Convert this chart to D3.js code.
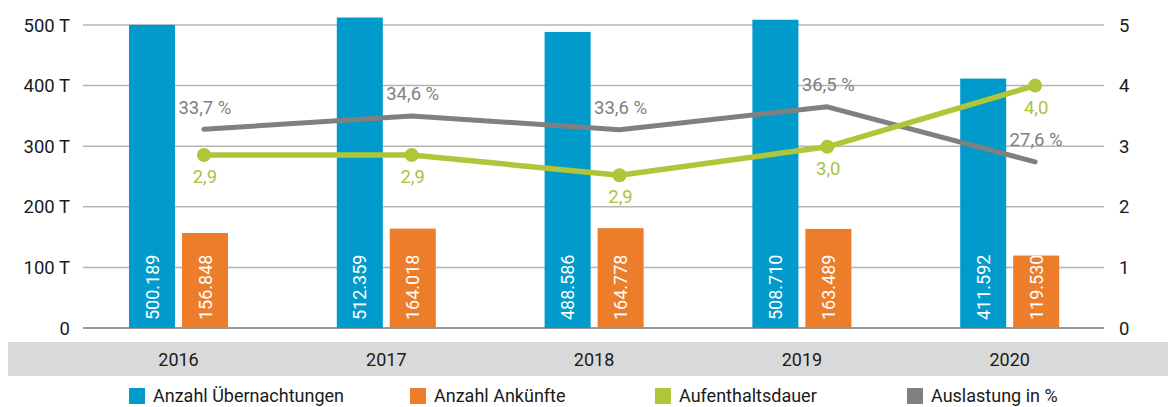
<!DOCTYPE html>
<html><head><meta charset="utf-8">
<script src="https://cdn.jsdelivr.net/npm/d3@7"></script>
<style>
html,body{margin:0;padding:0;background:#fff;}
svg{display:block;font-family:Roboto, "Open Sans", sans-serif;}
</style></head>
<body><svg id="chart" width="1168" height="407"></svg>
<script>
const years = ["2016","2017","2018","2019","2020"];
const uebernachtungen = [500189, 512359, 488586, 508710, 411592];
const ankuenfte = [156848, 164018, 164778, 163489, 119530];
const aufenthaltsdauer = [2.855, 2.855, 2.52, 2.99, 4.0];
const aufenthaltsLabels = ["2,9","2,9","2,9","3,0","4,0"];
const auslastung = [3.28, 3.50, 3.27, 3.65, 2.74];
const auslastungLabels = ["33,7 %","34,6 %","33,6 %","36,5 %","27,6 %"];
const leftTicks = [0, 100000, 200000, 300000, 400000, 500000];
const leftTickLabels = ["0","100 T","200 T","300 T","400 T","500 T"];
const rightTicks = [0,1,2,3,4,5];
const legendItems = ["Anzahl Übernachtungen","Anzahl Ankünfte","Aufenthaltsdauer","Auslastung in %"];

const C = {blue:"#009bcb", orange:"#ec7d2a", green:"#aec637", gray:"#808080", grayText:"#7f7f7f", greenText:"#a8c43a"};
const svg = d3.select("#chart");
const fmt = d3.format(",");
const deFmt = v => fmt(v).replace(/,/g,".");

const x = d3.scaleBand().domain(years).range([100, 1139]).paddingInner(0).paddingOuter(0);
const yL = d3.scaleLinear().domain([0, 500000]).range([328, 25]);
const yR = d3.scaleLinear().domain([0, 5]).range([328, 25]);
const gridX0 = 83, gridX1 = 1104;

// category band
svg.append("rect").attr("x",8).attr("y",342).attr("width",1160).attr("height",34).attr("fill","#d9d9d9");

// gridlines
svg.append("g").selectAll("line").data(leftTicks).join("line")
  .attr("x1",gridX0).attr("x2",gridX1)
  .attr("y1",d=>yL(d)).attr("y2",d=>yL(d))
  .attr("stroke",(d,i)=> i===0 ? "#9a9a9a" : "#b5b5b5").attr("stroke-width",(d,i)=> i===0?2:1.5);

// left axis labels
svg.append("g").selectAll("text").data(leftTicks).join("text")
  .attr("x",70).attr("y",d=>yL(d)+6.5).attr("text-anchor","end")
  .attr("font-size",18.5).attr("fill","#1a1a1a").text((d,i)=>leftTickLabels[i]);

// right axis labels
svg.append("g").selectAll("text").data(rightTicks).join("text")
  .attr("x",1119).attr("y",d=>yR(d)+6.5).attr("text-anchor","start")
  .attr("font-size",18.5).attr("fill","#1a1a1a").text(d=>d);

const bw = 46, blueOff = 29, orangeOff = 82;

// bars
const bars = svg.append("g");
bars.selectAll("rect.b").data(years).join("rect").attr("class","b")
  .attr("x",d=>x(d)+blueOff).attr("width",bw)
  .attr("y",(d,i)=>yL(uebernachtungen[i])).attr("height",(d,i)=>yL(0)-yL(uebernachtungen[i]))
  .attr("fill",C.blue);
bars.selectAll("rect.o").data(years).join("rect").attr("class","o")
  .attr("x",d=>x(d)+orangeOff).attr("width",bw)
  .attr("y",(d,i)=>yL(ankuenfte[i])).attr("height",(d,i)=>yL(0)-yL(ankuenfte[i]))
  .attr("fill",C.orange);

// bar labels (rotated)
function barLabel(cls, off, vals){
  bars.selectAll("text."+cls).data(years).join("text").attr("class",cls)
    .attr("transform",d=>`translate(${x(d)+off+bw/2+6.5},320) rotate(-90)`)
    .attr("text-anchor","start").attr("font-size",18).attr("fill","#fff")
    .text((d,i)=>deFmt(vals[i]));
}
barLabel("bl", blueOff, uebernachtungen);
barLabel("ol", orangeOff, ankuenfte);

const cx = d => x(d) + x.bandwidth()/2;

// gray line
svg.append("path").datum(years)
  .attr("d", d3.line().x(d=>cx(d)).y((d,i)=>yR(auslastung[i])))
  .attr("fill","none").attr("stroke",C.gray).attr("stroke-width",5)
  .attr("stroke-linecap","round").attr("stroke-linejoin","round");
svg.append("g").selectAll("text").data(years).join("text")
  .attr("x",d=>cx(d)+1).attr("y",(d,i)=>yR(auslastung[i])-15.5)
  .attr("text-anchor","middle").attr("font-size",18.5).attr("fill",C.grayText)
  .text((d,i)=>auslastungLabels[i]);

// green line
svg.append("path").datum(years)
  .attr("d", d3.line().x(d=>cx(d)).y((d,i)=>yR(aufenthaltsdauer[i])))
  .attr("fill","none").attr("stroke",C.green).attr("stroke-width",5.5)
  .attr("stroke-linecap","round").attr("stroke-linejoin","round");
svg.append("g").selectAll("circle").data(years).join("circle")
  .attr("cx",d=>cx(d)).attr("cy",(d,i)=>yR(aufenthaltsdauer[i])).attr("r",7)
  .attr("fill",C.green);
svg.append("g").selectAll("text").data(years).join("text")
  .attr("x",d=>cx(d)+1).attr("y",(d,i)=>yR(aufenthaltsdauer[i])+28)
  .attr("text-anchor","middle").attr("font-size",18.5).attr("fill",C.greenText)
  .text((d,i)=>aufenthaltsLabels[i]);

// year labels
svg.append("g").selectAll("text").data(years).join("text")
  .attr("x",d=>x(d)+78.5).attr("y",365.5).attr("text-anchor","middle")
  .attr("font-size",18).attr("fill","#1a1a1a").text(d=>d);

// legend
const legX = [129, 410, 655, 907];
const legColors = [C.blue, C.orange, C.green, C.gray];
const leg = svg.append("g").selectAll("g").data(legendItems).join("g")
  .attr("transform",(d,i)=>`translate(${legX[i]},388)`);
leg.append("rect").attr("width",16).attr("height",16).attr("fill",(d,i)=>legColors[i]);
leg.append("text").attr("x",24).attr("y",14).attr("font-size",18).attr("fill","#1a1a1a").text(d=>d);
</script></body></html>
